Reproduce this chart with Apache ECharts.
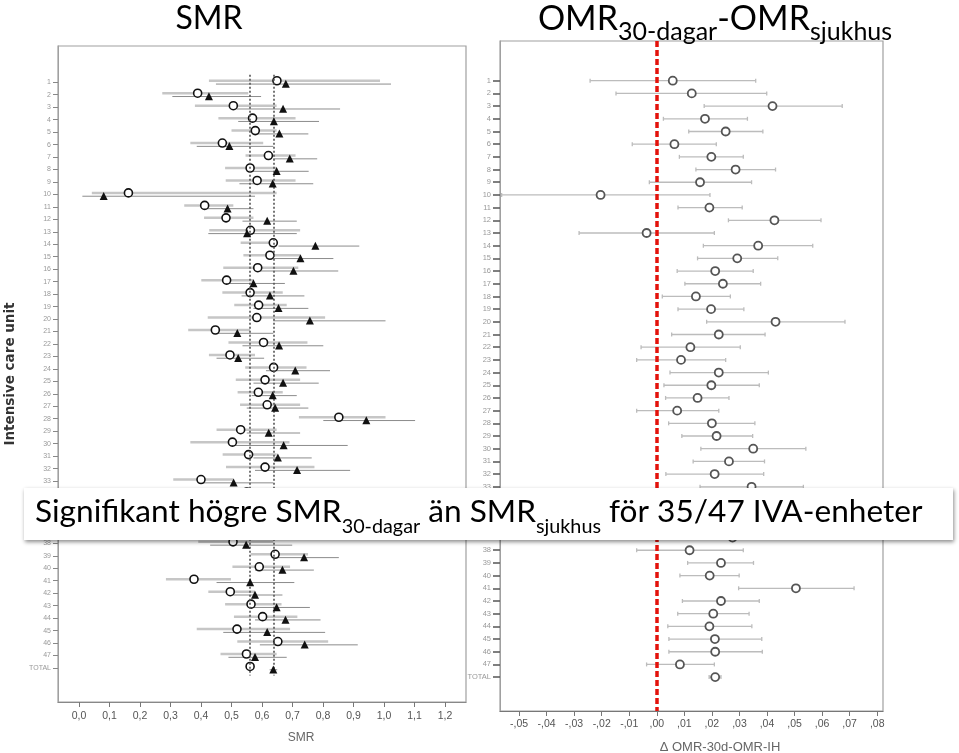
<!DOCTYPE html>
<html><head><meta charset="utf-8">
<script src="https://cdn.jsdelivr.net/npm/echarts@6/dist/echarts.min.js"></script>
<style>html,body{margin:0;padding:0;background:#fff}#c{width:959px;height:753px}</style>
</head><body><div id="c"></div>
<script>
const categories = ['1','2','3','4','5','6','7','8','9','10','11','12','13','14','15','16','17','18','19','20','21','22','23','24','25','26','27','28','29','30','31','32','33','34','35','36','37','38','39','40','41','42','43','44','45','46','47','TOTAL'];

// Left panel: SMR in-hospital (circles) and SMR 30-day (triangles) with 95% CI
const smrSjukhus   = [0.649,0.389,0.506,0.569,0.578,0.470,0.621,0.561,0.584,0.162,0.412,0.482,0.562,0.637,0.626,0.586,0.484,0.561,0.589,0.583,0.447,0.605,0.495,0.638,0.610,0.588,0.617,0.852,0.530,0.503,0.556,0.610,0.400,0.550,0.600,0.520,0.580,0.505,0.643,0.591,0.377,0.496,0.564,0.602,0.518,0.652,0.549,0.561];
const smrSjukhusLo = [0.426,0.273,0.380,0.457,0.500,0.365,0.546,0.479,0.481,0.042,0.345,0.410,0.427,0.530,0.539,0.473,0.401,0.470,0.509,0.422,0.358,0.490,0.426,0.545,0.514,0.520,0.528,0.721,0.451,0.365,0.471,0.482,0.309,0.460,0.500,0.430,0.480,0.391,0.563,0.503,0.285,0.424,0.479,0.508,0.386,0.519,0.464,0.548];
const smrSjukhusHi = [0.987,0.555,0.648,0.710,0.648,0.604,0.710,0.648,0.710,0.648,0.506,0.572,0.725,0.648,0.725,0.719,0.572,0.668,0.681,0.807,0.561,0.749,0.577,0.746,0.725,0.668,0.725,1.005,0.648,0.690,0.648,0.772,0.506,0.660,0.710,0.620,0.690,0.637,0.751,0.692,0.498,0.577,0.664,0.716,0.692,0.817,0.648,0.574];
const smr30        = [0.678,0.426,0.669,0.639,0.657,0.493,0.691,0.648,0.635,0.081,0.487,0.617,0.551,0.775,0.726,0.703,0.572,0.626,0.654,0.757,0.519,0.656,0.522,0.709,0.669,0.635,0.643,0.942,0.622,0.671,0.652,0.715,0.507,0.630,0.680,0.600,0.660,0.548,0.738,0.667,0.561,0.577,0.648,0.677,0.617,0.740,0.577,0.637];
const smr30Lo      = [0.449,0.306,0.517,0.522,0.583,0.386,0.637,0.561,0.526,0.011,0.413,0.536,0.424,0.654,0.637,0.593,0.490,0.533,0.572,0.637,0.440,0.536,0.451,0.613,0.572,0.566,0.550,0.801,0.550,0.506,0.572,0.577,0.397,0.540,0.580,0.500,0.560,0.430,0.640,0.577,0.451,0.506,0.561,0.577,0.473,0.593,0.490,0.625];
const smr30Hi      = [1.023,0.597,0.856,0.787,0.752,0.637,0.781,0.753,0.768,0.577,0.572,0.714,0.714,0.919,0.834,0.850,0.675,0.739,0.752,1.005,0.637,0.801,0.607,0.823,0.786,0.714,0.752,1.102,0.725,0.881,0.763,0.889,0.637,0.740,0.800,0.710,0.780,0.699,0.852,0.770,0.706,0.667,0.757,0.792,0.807,0.914,0.681,0.650];
const smrRefLines  = [0.56, 0.64];
const smrTicks     = [0,0.1,0.2,0.3,0.4,0.5,0.6,0.7,0.8,0.9,1.0,1.1,1.2];

// Right panel: OMR 30-day minus OMR in-hospital with 95% CI
const omrDiff   = [0.0058,0.0127,0.0420,0.0175,0.0250,0.0064,0.0198,0.0286,0.0157,-0.0204,0.0191,0.0427,-0.0037,0.0368,0.0292,0.0212,0.0240,0.0142,0.0197,0.0431,0.0225,0.0122,0.0088,0.0225,0.0198,0.0148,0.0074,0.0200,0.0217,0.0350,0.0262,0.0210,0.0344,0.0220,0.0180,0.0240,0.0275,0.0119,0.0233,0.0192,0.0505,0.0233,0.0205,0.0191,0.0211,0.0212,0.0084,0.0212];
const omrDiffLo = [-0.0242,-0.0148,0.0172,0.0024,0.0116,-0.0089,0.0082,0.0142,-0.0027,-0.0563,0.0077,0.0260,-0.0282,0.0169,0.0148,0.0074,0.0102,0.0020,0.0077,0.0181,0.0054,-0.0057,-0.0073,0.0048,0.0026,0.0032,-0.0073,0.0043,0.0091,0.0160,0.0132,0.0033,0.0157,0.0050,0.0020,0.0070,0.0100,-0.0073,0.0112,0.0084,0.0297,0.0093,0.0076,0.0040,0.0044,0.0044,-0.0037,0.0190];
const omrDiffHi = [0.0359,0.0399,0.0673,0.0329,0.0385,0.0216,0.0314,0.0431,0.0344,0.0193,0.0310,0.0596,0.0209,0.0566,0.0439,0.0350,0.0377,0.0267,0.0316,0.0683,0.0393,0.0303,0.0250,0.0405,0.0372,0.0262,0.0225,0.0356,0.0348,0.0541,0.0391,0.0388,0.0532,0.0390,0.0340,0.0410,0.0450,0.0314,0.0351,0.0299,0.0716,0.0372,0.0335,0.0345,0.0381,0.0383,0.0209,0.0233];
const diffRefLine = 0;
const diffTicks = [-0.05,-0.04,-0.03,-0.02,-0.01,0,0.01,0.02,0.03,0.04,0.05,0.06,0.07,0.08];

const rowIdx = categories.map((c,i)=>i);
const AX = "'Liberation Sans', Arial, sans-serif";
const TF = "Lato, 'Open Sans', sans-serif";

function ciSeries(lo, hi, xi, dy, stroke, width, caps) {
  return {
    type: 'custom', xAxisIndex: xi, yAxisIndex: xi, z: 2, silent: true,
    encode: {x: [0,1], y: 2},
    data: rowIdx.map(i => [lo[i], hi[i], i]),
    renderItem: function (params, api) {
      const a = api.coord([api.value(0), api.value(2)]);
      const b = api.coord([api.value(1), api.value(2)]);
      const st = {stroke: stroke, lineWidth: width};
      const kids = [{type:'line', shape:{x1:a[0], y1:a[1]+dy, x2:b[0], y2:b[1]+dy}, style: st}];
      if (caps) {
        kids.push({type:'line', shape:{x1:a[0], y1:a[1]+dy-2, x2:a[0], y2:a[1]+dy+2}, style: st});
        kids.push({type:'line', shape:{x1:b[0], y1:b[1]+dy-2, x2:b[0], y2:b[1]+dy+2}, style: st});
      }
      return {type:'group', children: kids};
    }
  };
}

const chart = echarts.init(document.getElementById('c'), null, {renderer: 'canvas'});
const option = {
  animation: false,
  backgroundColor: '#fff',
  grid: [
    {left: 58, top: 46, width: 408, height: 656, show: true, borderColor: '#a0a0a0', borderWidth: 1.2},
    {left: 500, top: 41, width: 383, height: 670, show: true, borderColor: '#a0a0a0', borderWidth: 1.2}
  ],
  xAxis: [
    {gridIndex: 0, type: 'value', min: -0.0689, max: 1.2689,
     axisLine: {show: true, onZero: false, lineStyle: {color: '#888', width: 1.2}},
     splitLine: {show: false},
     axisTick: {show: true, length: 5, customValues: smrTicks, lineStyle: {color: '#777'}},
     axisLabel: {customValues: smrTicks, formatter: v => v.toFixed(1).replace('.', ','), fontSize: 10.5, color: '#555', margin: 9, fontFamily: AX}},
    {gridIndex: 1, type: 'value', min: -0.0569, max: 0.0821,
     axisLine: {show: true, onZero: false, lineStyle: {color: '#777', width: 1.2}},
     splitLine: {show: false},
     axisTick: {show: true, length: 5, customValues: diffTicks, lineStyle: {color: '#777'}},
     axisLabel: {customValues: diffTicks, formatter: v => { const n = Math.round(v*100); const s = ',' + String(Math.abs(n)).padStart(2,'0'); return n < 0 ? '-' + s : s; }, fontSize: 10.5, color: '#555', margin: 8, fontFamily: AX}}
  ],
  yAxis: [
    {gridIndex: 0, type: 'value', inverse: true, min: -2.91, max: 49.73,
     name: 'Intensive care unit', nameLocation: 'middle', nameGap: 41, nameRotate: 90,
     nameTextStyle: {fontFamily: "'DejaVu Sans', Verdana, sans-serif", fontWeight: 'bold', fontSize: 13.5, color: '#333'},
     axisLine: {show: true, onZero: false, lineStyle: {color: '#a0a0a0'}},
     splitLine: {show: false},
     axisTick: {show: true, length: 5, customValues: rowIdx, lineStyle: {color: '#888'}},
     axisLabel: {customValues: rowIdx, formatter: v => categories[v], fontSize: 7, color: '#999', margin: 7, fontFamily: AX}},
    {gridIndex: 1, type: 'value', inverse: true, min: -3.13, max: 49.67,
     axisLine: {show: true, onZero: false, lineStyle: {color: '#a0a0a0'}},
     splitLine: {show: false},
     axisTick: {show: true, length: 7, customValues: rowIdx, lineStyle: {color: '#555', width: 1.5}},
     axisLabel: {customValues: rowIdx, formatter: v => categories[v], fontSize: 7.5, color: '#999', margin: 9, fontFamily: AX}}
  ],
  series: [
    ciSeries(smrSjukhusLo, smrSjukhusHi, 0, -1.5, '#c6c6c6', 2.5, false),
    ciSeries(smr30Lo, smr30Hi, 0, 1.8, '#8c8c8c', 1, false),
    {type: 'scatter', xAxisIndex: 0, yAxisIndex: 0, z: 4, symbol: 'circle', symbolSize: 8, symbolOffset: [0, -1.5],
     itemStyle: {color: '#fff', borderColor: '#111', borderWidth: 1.6, opacity: 1},
     data: rowIdx.map(i => [smrSjukhus[i], i])},
    {type: 'scatter', xAxisIndex: 0, yAxisIndex: 0, z: 5, symbol: 'triangle', symbolSize: [8, 8], symbolOffset: [0, 1.5],
     itemStyle: {color: '#111', opacity: 1},
     data: rowIdx.map(i => [smr30[i], i]),
     markLine: {silent: true, symbol: ['none','none'], label: {show: false},
       lineStyle: {color: '#555', width: 1.6, type: [2, 2]},
       data: smrRefLines.map(v => [{coord: [v, -0.6]}, {coord: [v, 47.6]}])}},
    ciSeries(omrDiffLo, omrDiffHi, 1, 0, '#bcbcbc', 1.3, true),
    {type: 'scatter', xAxisIndex: 1, yAxisIndex: 1, z: 6, symbol: 'circle', symbolSize: 8,
     itemStyle: {color: '#fff', borderColor: '#555', borderWidth: 1.8, opacity: 1},
     data: rowIdx.map(i => [omrDiff[i], i]),
     markLine: {silent: true, symbol: ['none','none'], label: {show: false}, z: 3,
       lineStyle: {color: '#e3120b', width: 3.5, type: [6, 3]},
       data: [{xAxis: diffRefLine}]}}
  ],
  graphic: [
    {type: 'text', x: 301, y: 738, z: 10, style: {text: 'SMR', fontSize: 12, fontFamily: AX, fill: '#666', align: 'center', verticalAlign: 'middle'}},
    {type: 'text', x: 720, y: 747, z: 10, style: {text: 'Δ OMR-30d-OMR-IH', fontSize: 13, fontFamily: AX, fill: '#666', align: 'center', verticalAlign: 'middle'}},
    {type: 'text', x: 209, y: 3, z: 10, style: {text: '{a|SMR}', align: 'center', verticalAlign: 'top',
      rich: {a: {fontSize: 32, lineHeight: 34, fontFamily: TF, fill: '#000', verticalAlign: 'top'}}}},
    {type: 'text', x: 715, y: 2, z: 10, style: {text: '{a|OMR}{b|30-dagar}{a|-OMR}{b|sjukhus}', align: 'center', verticalAlign: 'top',
      rich: {a: {fontSize: 34, lineHeight: 35, fontFamily: TF, fill: '#000', verticalAlign: 'top'},
             b: {fontSize: 25, lineHeight: 60, fontFamily: TF, fill: '#000', verticalAlign: 'middle'}}}},
    {type: 'rect', z: 20, shape: {x: 24, y: 488, width: 929, height: 52},
     style: {fill: '#fff', shadowBlur: 4, shadowOffsetY: 2, shadowOffsetX: 1, shadowColor: 'rgba(0,0,0,0.45)'}},
    {type: 'text', x: 35, y: 496, z: 21, style: {text: '{a|Signifikant högre SMR}{b|30-dagar}{a| än SMR}{b|sjukhus}{a| för 35/47 IVA-enheter}', align: 'left', verticalAlign: 'top',
      rich: {a: {fontSize: 31.6, lineHeight: 34, fontFamily: TF, fill: '#000', verticalAlign: 'top'},
             b: {fontSize: 19.8, lineHeight: 62, fontFamily: TF, fill: '#000', verticalAlign: 'middle'}}}}
  ]
};
chart.setOption(option);
</script></body></html>
